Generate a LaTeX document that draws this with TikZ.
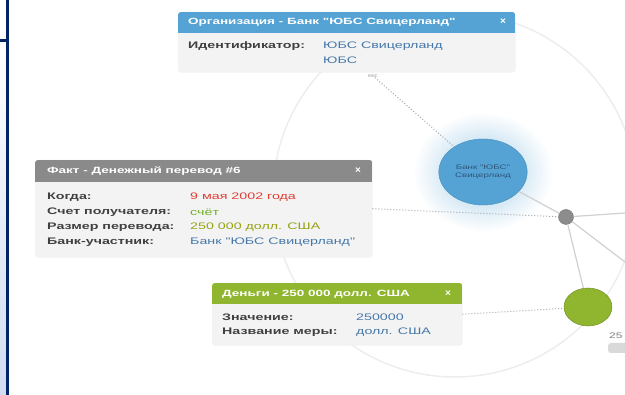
\documentclass[tikz,border=0pt]{standalone}
\usepackage{fontspec}
\setmainfont{Liberation Sans}
\newfontfamily\widefont[FakeStretch=1.5]{Liberation Sans}
\usetikzlibrary{positioning,shapes.geometric}

\definecolor{navy}{RGB}{0,36,100}
\definecolor{orgblue}{RGB}{84,163,212}
\definecolor{factgray}{RGB}{138,138,138}
\definecolor{moneygreen}{RGB}{143,182,46}
\definecolor{panel}{RGB}{243,243,243}
\definecolor{valblue}{RGB}{70,120,170}
\definecolor{valred}{RGB}{222,62,52}
\definecolor{valgreen}{RGB}{112,176,40}
\definecolor{valolive}{RGB}{150,162,20}
\definecolor{edgegray}{RGB}{208,208,208}

\tikzset{
  cardframe/.style={anchor=north west, inner sep=0pt, draw=black!10, rounded corners=3pt},
  cardhead/.style={anchor=west, inner sep=0pt, text=white, font=\widefont\bfseries\fontsize{9}{10}\selectfont},
  closex/.style={inner sep=0pt, text=white, font=\bfseries\fontsize{10}{10}\selectfont},
  key/.style={anchor=west, inner sep=0pt, text=black!75, font=\widefont\bfseries\fontsize{9.5}{10}\selectfont},
  val/.style={anchor=west, inner sep=0pt, font=\widefont\fontsize{9.5}{10}\selectfont},
  link/.style={edgegray, line width=1.2pt},
  hint/.style={black!35, dotted, line width=1pt},
}

\begin{document}
\begin{tikzpicture}[x=1pt,y=-1pt]
\useasboundingbox (0,0) rectangle (625,395);

% left panel
\shade[top color=white, bottom color={rgb,255:red,208;green,220;blue,240}] (0,41) rectangle (6,395);
\draw[navy, line width=2.5pt] (7.5,0) -- (7.5,395);
\draw[navy, line width=2.5pt] (0,40.5) -- (7.5,40.5);

% background ring
\draw[black!7, line width=1.5pt] (455,195) circle (182);

% glow of the bank node
\shade[inner color=orgblue!55, outer color=white] (483,172) ellipse (70 and 60);

% graph nodes
\node[ellipse, draw=orgblue!85!black, fill=orgblue, minimum width=84, minimum height=66,
      align=center, text=valblue!70!black, font=\widefont\fontsize{6.5}{8}\selectfont] (bank) at (483,172) {Банк "ЮБС"\\Свицерланд};
\node[circle, draw=black!55, fill=black!45, minimum size=15, inner sep=0pt] (hub) at (566,217) {};
\node[ellipse, draw=moneygreen!75!black, fill=moneygreen, minimum width=48, minimum height=38] (cash) at (588,307) {};
\coordinate (east1) at (625,213);
\coordinate (east2) at (625,262);

\draw[link] (bank) -- (hub);
\draw[link] (hub) -- (east1);
\draw[link] (hub) -- (east2);
\draw[link] (hub) -- (cash);

\node[anchor=west, inner sep=0pt, text=black!50, font=\widefont\fontsize{8}{9}\selectfont] (cashtag) at (609,336) {25};
\fill[black!15, rounded corners=3pt] (608,343) rectangle (632,353);

% organisation card
\node[cardframe, minimum width=337, minimum height=60] (orgcard) at (178,12) {};
\begin{scope}
  \clip[rounded corners=3pt] (orgcard.north west) rectangle (orgcard.south east);
  \fill[orgblue] (178,12) rectangle (515,33);
  \fill[panel] (178,33) rectangle (515,72);
\end{scope}
\node[cardhead] (orghead) at (188,22) {Организация - Банк "ЮБС Свицерланд"};
\node[closex] (orgclose) at (503,22) {×};
\node[key] (orgk1) at (188,46) {Идентификатор:};
\node[val, text=valblue] (orgv1) at (323,46) {ЮБС Свицерланд};
\node[val, text=valblue] (orgv2) at (323,60) {ЮБС};
\node[inner sep=0pt, text=black!45, font=\fontsize{4}{5}\selectfont] (orgtag) at (373,76) {ЮБС};
\draw[hint] (orgtag) -- (bank);

% fact card
\node[cardframe, minimum width=337, minimum height=97] (factcard) at (35,160) {};
\begin{scope}
  \clip[rounded corners=3pt] (factcard.north west) rectangle (factcard.south east);
  \fill[factgray] (35,160) rectangle (372,182);
  \fill[panel] (35,182) rectangle (372,257);
\end{scope}
\node[cardhead] (facthead) at (47,171) {Факт - Денежный перевод \#6};
\node[closex] (factclose) at (358,171) {×};
\node[key] (factk1) at (47,197) {Когда:};
\node[key] (factk2) at (47,212) {Счет получателя:};
\node[key] (factk3) at (47,227) {Размер перевода:};
\node[key] (factk4) at (47,242) {Банк-участник:};
\node[val, text=valred] (factv1) at (190,197) {9 мая 2002 года};
\node[val, text=valgreen] (factv2) at (190,212) {счёт};
\node[val, text=valolive] (factv3) at (190,227) {250 000 долл. США};
\node[val, text=valblue] (factv4) at (190,242) {Банк "ЮБС Свицерланд"};
\draw[hint] (factcard.east) -- (hub);

% money card
\node[cardframe, minimum width=250, minimum height=62] (moneycard) at (212,283) {};
\begin{scope}
  \clip[rounded corners=3pt] (moneycard.north west) rectangle (moneycard.south east);
  \fill[moneygreen] (212,283) rectangle (462,304);
  \fill[panel] (212,304) rectangle (462,345);
\end{scope}
\node[cardhead] (moneyhead) at (222,294) {Деньги - 250 000 долл. США};
\node[closex] (moneyclose) at (448,294) {×};
\node[key] (moneyk1) at (222,317) {Значение:};
\node[key] (moneyk2) at (222,332) {Название меры:};
\node[val, text=valblue] (moneyv1) at (356,317) {250000};
\node[val, text=valblue] (moneyv2) at (356,332) {долл. США};
\draw[hint] (moneycard.east) -- (cash);

\end{tikzpicture}
\end{document}
